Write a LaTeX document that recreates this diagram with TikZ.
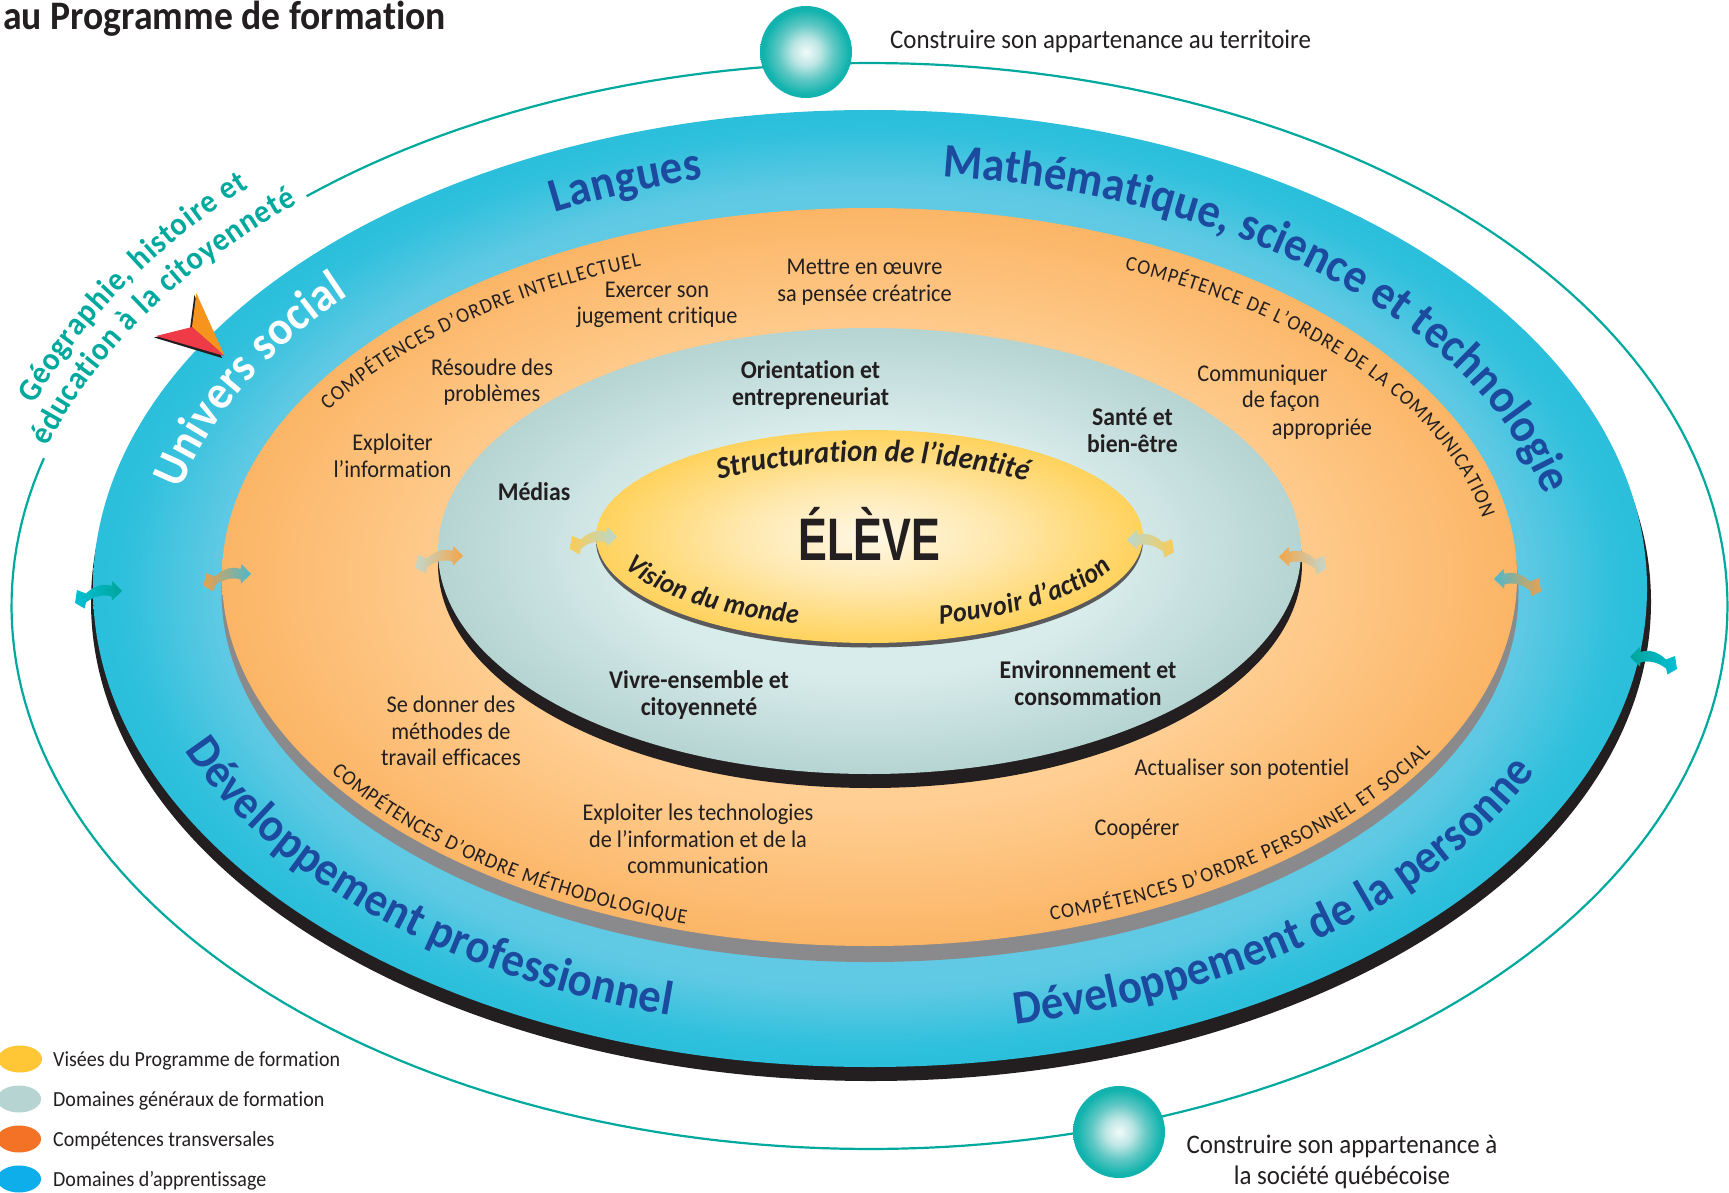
\documentclass[tikz,border=0pt]{standalone}
\usepackage{fontspec}
\setmainfont[FakeStretch=0.93,Ligatures=NoCommon]{Carlito}
\usetikzlibrary{decorations.text}
\definecolor{tealline}{HTML}{00A99D}
\definecolor{navy}{HTML}{1B4A9E}
\definecolor{inkc}{HTML}{231F20}
\definecolor{bA}{HTML}{7BD0E8}\definecolor{bB}{HTML}{5FC9E4}\definecolor{bC}{HTML}{2EC0DC}\definecolor{bD}{HTML}{2BBFDB}
\definecolor{oA}{HTML}{FFE0B2}\definecolor{oB}{HTML}{FFCE92}\definecolor{oC}{HTML}{FBB566}
\definecolor{tA}{HTML}{D8ECEB}\definecolor{tB}{HTML}{B5D4D2}
\definecolor{yA}{HTML}{FFF8E6}\definecolor{yB}{HTML}{FFE8AD}\definecolor{yC}{HTML}{FFD25C}
\definecolor{wA}{HTML}{F2FAFA}\definecolor{wB}{HTML}{BDE6E4}\definecolor{wC}{HTML}{60C8C4}\definecolor{wD}{HTML}{12B3AE}
\definecolor{aTealD}{HTML}{00A59B}\definecolor{aCyan}{HTML}{00BFD6}\definecolor{aOr}{HTML}{E8A050}
\definecolor{aTeal}{HTML}{4CB9CC}\definecolor{aOrB}{HTML}{F2A548}\definecolor{aPale}{HTML}{C4D6CA}
\definecolor{aYel}{HTML}{F9CC55}\definecolor{aPaleB}{HTML}{B8D8D0}
\definecolor{mkO}{HTML}{F7941E}\definecolor{mkR}{HTML}{EF3A47}
\definecolor{lgY}{HTML}{FFC735}\definecolor{lgO}{HTML}{F47225}\definecolor{lgB}{HTML}{0EAEEA}
\definecolor{shG}{HTML}{8A8A8C}\definecolor{shY}{HTML}{5A5A5C}
\pgfdeclareradialshading{sblue}{\pgfpointorigin}{color(0bp)=(bA);color(21bp)=(bB);color(24bp)=(bC);color(25bp)=(bD);color(50bp)=(bD)}
\pgfdeclareradialshading{sorange}{\pgfpointorigin}{color(0bp)=(oA);color(15.5bp)=(oB);color(25bp)=(oC);color(50bp)=(oC)}
\pgfdeclareradialshading{steal}{\pgfpointorigin}{color(0bp)=(tA);color(14bp)=(tA);color(25bp)=(tB);color(50bp)=(tB)}
\pgfdeclareradialshading{syellow}{\pgfpointorigin}{color(0bp)=(yA);color(12bp)=(yB);color(25bp)=(yC);color(50bp)=(yC)}
\pgfdeclareradialshading{sball}{\pgfpointorigin}{color(0bp)=(wA);color(7.5bp)=(wB);color(15bp)=(wC);color(23bp)=(wD);color(50bp)=(wD)}
\tikzset{
  lbl/.style={inner sep=0pt,align=center,text=inkc,font=\fontsize{24}{26.5}\selectfont},
  lblb/.style={inner sep=0pt,align=center,text=inkc,font=\bfseries\fontsize{25.5}{27}\selectfont},
  leg/.style={inner sep=0pt,anchor=base west,text=inkc,font=\fontsize{21.5}{24}\selectfont},
  big/.style={inner sep=0pt,align=center,text=inkc,font=\fontsize{26.8}{31}\selectfont},
}
% cx cy a b t1 t2 font colour text
\newcommand\arctext[9]{%
  \path[decorate,decoration={text along path,text align={fit to path},text color=#8,
     text={|#7|#9}}]
    plot[domain=#5:#6,samples=100,variable=\t]({#1+#3*cos(\t)},{#2+#4*sin(\t)});}
% x y mirror colourleft colourright
\newcommand\swoop[5]{%
  \begin{scope}[shift={(#1,#2)},xscale=#3]
    \path[left color=#4,right color=#5] (0,0) -- (9.5,-10) -- (10.5,-5)
      .. controls (18,-8) and (28,-5.5) .. (36,2.5) -- (45,-1) -- (47,12) -- (37.5,17.5) -- (36,11.5)
      .. controls (28,5) and (18,3) .. (10.5,5.5) -- (10,9.5) -- cycle;
  \end{scope}}
\newcommand\fbig{\bfseries\fontsize{48}{48}\selectfont}
\newcommand\fgeo{\bfseries\fontsize{32.5}{33}\selectfont}
\newcommand\fcap{\fontsize{21}{21}\selectfont}
\newcommand\fhand{\bfseries\itshape\fontsize{31}{31}\selectfont}
\newcommand\fhandb{\bfseries\itshape\fontsize{28}{28}\selectfont}
\begin{document}
\begin{tikzpicture}[x=1pt,y=-1pt]
\useasboundingbox (0,0) rectangle (1729,1193);
\fill[white] (0,0) rectangle (1729,1193);
% stacked discs
\fill[inkc] (871,602) ellipse [x radius=780pt,y radius=479pt];
\path[shading=sblue] (870,588.5) ellipse [x radius=777pt,y radius=478.5pt];
\fill[shG] (870,592) ellipse [x radius=648.5pt,y radius=370pt];
\path[shading=sorange] (869.5,577) ellipse [x radius=647.5pt,y radius=369pt];
\fill[inkc] (870,564) ellipse [x radius=432pt,y radius=224pt];
\path[shading=steal] (869.5,551) ellipse [x radius=431.5pt,y radius=223pt];
\fill[shY] (869.5,541) ellipse [x radius=273.5pt,y radius=106.5pt];
\path[shading=syellow] (869.5,536.5) ellipse [x radius=273.5pt,y radius=106.5pt];
% outer ring
\draw[tealline,line width=2.2pt] plot[domain=229:555.8,samples=240,variable=\t]({869.5+858*cos(\t)},{606+543*sin(\t)});
\path[shading=sball] (806,52) circle [radius=46pt];
\path[shading=sball] (1119,1132) circle [radius=46pt];
% marker
\fill[inkc] (194.4,295) -- (222,358) -- (154,337.5) -- (190,328.5) -- cycle;
\fill[mkO] (196.4,293.3) -- (224.7,356) -- (192,327) -- cycle;
\fill[mkR] (156,336) -- (192,327) -- (224.7,356) -- cycle;
% swoops
\swoop{122}{591}{-1}{aCyan}{aTealD}
\swoop{251}{574}{-1}{aOr}{aTeal}
\swoop{463}{556}{-1}{aPale}{aOrB}
\swoop{617}{537}{-1}{aYel}{aPaleB}
\swoop{1127}{540}{1}{aPaleB}{aYel}
\swoop{1279}{557}{1}{aOrB}{aPale}
\swoop{1494}{579}{1}{aTeal}{aOr}
\swoop{1630}{657}{1}{aTealD}{aCyan}
% curved ring labels
\arctext{870}{589}{692}{415}{276}{347}{\fbig}{navy}{Mathématique, science et technologie}
\arctext{870}{589}{700}{422}{243.2}{256.2}{\fbig}{navy}{Langues}
\arctext{870}{589}{730}{444}{78.5}{24.3}{\fbig}{navy}{Développement de la personne}
\arctext{870}{589}{735}{443}{158.7}{105.8}{\fbig}{navy}{Développement professionnel}
\arctext{870}{589}{708}{434}{193.2}{222.6}{\fbig}{white}{Univers social}
\arctext{869.5}{606}{890}{584}{200.2}{225.8}{\fgeo}{tealline}{Géographie, histoire et}
\arctext{869.5}{606}{860}{539}{197.2}{228.3}{\fgeo}{tealline}{éducation à la citoyenneté}
\arctext{869.5}{577}{625}{334}{210}{248.6}{\fcap}{inkc}{COMPÉTENCES D’ORDRE INTELLECTUEL}
\arctext{869.5}{577}{622.5}{336.7}{294.2}{350}{\fcap}{inkc}{COMPÉTENCE DE L’ORDRE DE LA COMMUNICATION}
\arctext{869.5}{577}{639}{362}{147.4}{106.7}{\fcap}{inkc}{COMPÉTENCES D’ORDRE MÉTHODOLOGIQUE}
\arctext{869.5}{577}{643}{358.5}{73.6}{29.2}{\fcap}{inkc}{COMPÉTENCES D’ORDRE PERSONNEL ET SOCIAL}
\arctext{869.5}{536.5}{231}{75}{229.5}{313}{\fhand}{inkc}{Structuration de l’identité}
\arctext{869.5}{536.5}{260}{91}{160}{106}{\fhandb}{inkc}{Vision du monde}
\arctext{869.5}{536.5}{260}{91}{74.3}{21}{\fhandb}{inkc}{Pouvoir d’action}
% title and plain labels
\node[inner sep=0pt,anchor=base west,text=inkc,font=\bfseries\fontsize{40.5}{40}\selectfont] (title) at (3,30) {au Programme de formation};
\node[big,anchor=west] (terr) at (890,41) {Construire son appartenance au territoire};
\node[big] (socq) at (1342,1162) {Construire son appartenance à\\la société québécoise};
\node[lbl] (o1) at (864.5,282) {Mettre en œuvre\\sa pensée créatrice};
\node[lbl] (o2) at (657,305) {Exercer son\\jugement critique};
\node[lbl] (o3) at (492,382) {Résoudre des\\problèmes};
\node[lbl] (o4) at (392.5,456) {Exploiter\\l’information};
\node[lbl] (o5a) at (1262.5,375) {Communiquer};
\node[lbl] (o5b) at (1281,401) {de façon};
\node[lbl] (o5c) at (1322,429) {appropriée};
\node[lbl] (o6) at (451,731) {Se donner des\\méthodes de\\travail efficaces};
\node[lbl] (o7) at (698,839) {Exploiter les technologies\\de l’information et de la\\communication};
\node[lbl] (o8) at (1242,769) {Actualiser son potentiel};
\node[lbl] (o9) at (1137,829) {Coopérer};
\node[lblb] (d1) at (810.5,385) {Orientation et\\entrepreneuriat};
\node[lblb] (d2) at (1132.5,430) {Santé et\\bien-être};
\node[lblb] (d3) at (534,492) {Médias};
\node[lblb] (d4) at (699,695) {Vivre-ensemble et\\citoyenneté};
\node[lblb] (d5) at (1088,683) {Environnement et\\consommation};
\node[inner sep=0pt,text=inkc] (eleve) at (869,534) {\scalebox{0.72}[1]{\fontspec{Liberation Sans}\bfseries\fontsize{60}{60}\selectfont ÉLÈVE}};
% legend
\fill[lgY] (20,1059) ellipse [x radius=22pt,y radius=13.5pt];
\fill[tB] (19,1099) ellipse [x radius=22pt,y radius=13.5pt];
\fill[lgO] (19,1139) ellipse [x radius=22pt,y radius=13.5pt];
\fill[lgB] (19,1179) ellipse [x radius=22pt,y radius=13.5pt];
\node[leg] (l1) at (53,1066) {Visées du Programme de formation};
\node[leg] (l2) at (53,1106) {Domaines généraux de formation};
\node[leg] (l3) at (53,1146) {Compétences transversales};
\node[leg] (l4) at (53,1186) {Domaines d’apprentissage};
\end{tikzpicture}
\end{document}
